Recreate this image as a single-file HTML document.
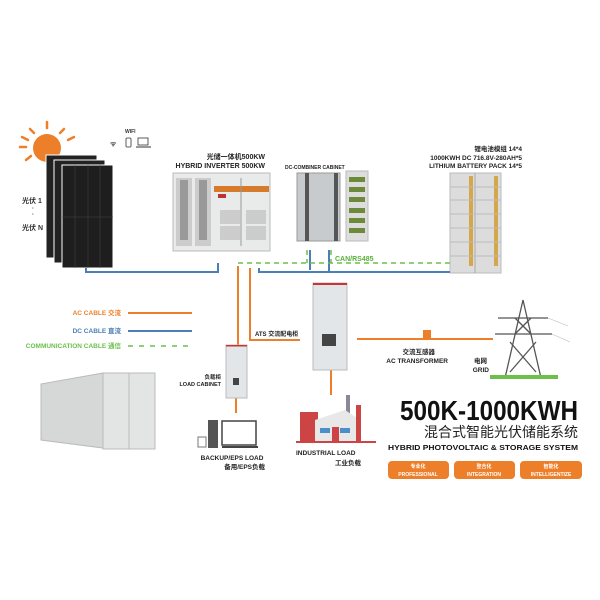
<!DOCTYPE html>
<html><head><meta charset="utf-8"><style>
html,body{margin:0;padding:0;background:#fff;width:600px;height:600px;overflow:hidden}
svg{display:block}
text{font-family:"Liberation Sans","Noto Sans CJK SC",sans-serif;font-weight:bold}
</style></head><body>
<svg width="600" height="600" viewBox="0 0 600 600" xmlns="http://www.w3.org/2000/svg">
<g stroke="#ee7f2a" stroke-width="2.5" stroke-linecap="round">
<line x1="47" y1="122" x2="47" y2="128"/><line x1="30" y1="129" x2="34" y2="133"/><line x1="64" y1="129" x2="60" y2="133"/>
<line x1="20" y1="147" x2="26" y2="147"/><line x1="68" y1="140" x2="74" y2="137"/><line x1="26" y1="160" x2="31" y2="156"/><line x1="22" y1="137" x2="28" y2="140"/>
</g>
<circle cx="47" cy="148" r="14" fill="#ee7f2a"/>
<g stroke="#fff" stroke-width="1">
<rect x="46" y="155" width="51" height="103" fill="#222"/>
<rect x="54" y="160" width="51" height="103" fill="#222"/>
<rect x="62" y="165" width="51" height="103" fill="#1e1e1e"/>
</g>
<g stroke="#444" stroke-width="0.5">
<line x1="62" y1="217" x2="113" y2="217"/><line x1="75" y1="165" x2="75" y2="268"/><line x1="88" y1="165" x2="88" y2="268"/><line x1="100" y1="165" x2="100" y2="268"/>
</g>
<text x="22" y="203" font-size="7" fill="#333">光伏 1</text>
<text x="32" y="210" font-size="6" fill="#333">·</text>
<text x="32" y="216" font-size="6" fill="#333">·</text>
<text x="22" y="230" font-size="7" fill="#333">光伏 N</text>
<text x="125" y="133" font-size="5" fill="#333">WIFI</text>
<text x="110" y="146" font-size="7" fill="#333">ᯤ</text>
<rect x="126" y="138" width="5" height="9" rx="1" fill="none" stroke="#333" stroke-width="0.8"/>
<rect x="138" y="138" width="10" height="7" fill="none" stroke="#333" stroke-width="0.8"/>
<line x1="136" y1="147" x2="151" y2="147" stroke="#333"/>
<text x="265" y="159" font-size="7" fill="#222" text-anchor="end">光储一体机500KW</text>
<text x="265" y="168" font-size="7" fill="#222" text-anchor="end">HYBRID INVERTER 500KW</text>
<rect x="173" y="173" width="97" height="78" fill="#e9eaea" stroke="#bbb"/>
<rect x="176" y="178" width="16" height="68" fill="#ccc"/><rect x="180" y="180" width="8" height="60" fill="#999"/>
<rect x="195" y="178" width="16" height="68" fill="#ccc"/><rect x="199" y="180" width="8" height="60" fill="#999"/>
<rect x="214" y="186" width="55" height="6" fill="#d67a2c"/>
<rect x="218" y="194" width="8" height="4" fill="#b33"/>
<rect x="220" y="210" width="20" height="14" fill="#ccc"/><rect x="246" y="210" width="20" height="14" fill="#ccc"/>
<rect x="220" y="226" width="20" height="14" fill="#ccc"/><rect x="246" y="226" width="20" height="14" fill="#ccc"/>
<line x1="241" y1="178" x2="241" y2="246" stroke="#999"/>
<text x="285" y="169" font-size="5" fill="#222">DC-COMBINER CABINET</text>
<rect x="297" y="173" width="43" height="68" fill="#c8cbcd" stroke="#999"/>
<rect x="305" y="173" width="4" height="68" fill="#555"/><rect x="334" y="173" width="4" height="68" fill="#555"/>
<rect x="346" y="171" width="22" height="70" fill="#ddd" stroke="#bbb"/>
<g fill="#6c8a3a"><rect x="349" y="177" width="16" height="5"/><rect x="349" y="187" width="16" height="5"/><rect x="349" y="197" width="16" height="5"/><rect x="349" y="208" width="16" height="5"/><rect x="349" y="218" width="16" height="5"/><rect x="349" y="228" width="16" height="5"/></g>
<text x="522" y="151" font-size="6.5" fill="#222" text-anchor="end">锂电池模组  14*4</text>
<text x="522" y="160" font-size="6.5" fill="#222" text-anchor="end">1000KWH   DC 716.8V-280AH*5</text>
<text x="522" y="168" font-size="6.5" fill="#222" text-anchor="end">LITHIUM BATTERY PACK  14*5</text>
<rect x="450" y="173" width="51" height="100" fill="#dcdcdc" stroke="#bbb"/>
<line x1="475" y1="173" x2="475" y2="273" stroke="#aaa"/>
<g fill="#d4a84a"><rect x="469" y="176" width="4" height="90"/><rect x="494" y="176" width="4" height="90"/></g>
<g stroke="#bbb"><line x1="450" y1="187" x2="501" y2="187"/><line x1="450" y1="200" x2="501" y2="200"/><line x1="450" y1="214" x2="501" y2="214"/><line x1="450" y1="228" x2="501" y2="228"/><line x1="450" y1="242" x2="501" y2="242"/><line x1="450" y1="256" x2="501" y2="256"/></g>
<g stroke="#4a7fb8" stroke-width="2" fill="none">
<polyline points="86,268 86,272 218,272 218,263"/>
<polyline points="259,268 259,272 450,272"/>
<polyline points="310,250 310,270"/>
<polyline points="329,250 329,272"/>
</g>
<g stroke="#6cbf4a" stroke-width="1.5" fill="none" stroke-dasharray="5,4">
<line x1="238" y1="263" x2="450" y2="263"/>
<line x1="307" y1="250" x2="307" y2="263"/>
<line x1="331" y1="250" x2="331" y2="263"/>
</g>
<text x="335" y="261" font-size="7" fill="#5aaf3a">CAN/RS485</text>
<g stroke="#ee7f2a" stroke-width="2" fill="none">
<line x1="238" y1="266" x2="238" y2="345"/>
<polyline points="250,268 250,340 300,340"/>
<line x1="357" y1="339" x2="493" y2="339"/>
<line x1="236" y1="398" x2="236" y2="413"/>
<line x1="331" y1="370" x2="331" y2="395"/>
</g>
<text x="255" y="336" font-size="6" fill="#222">ATS  交流配电柜</text>
<rect x="313" y="283" width="34" height="87" fill="#e2e6e8" stroke="#bbb"/>
<rect x="313" y="283" width="34" height="2" fill="#c33"/>
<rect x="322" y="334" width="14" height="12" fill="#444"/>
<rect x="423" y="330" width="8" height="10" fill="#ee7f2a"/>
<text x="435" y="354" font-size="6.5" fill="#222" text-anchor="end">交流互感器</text>
<text x="448" y="363" font-size="6.5" fill="#222" text-anchor="end">AC TRANSFORMER</text>
<g stroke="#555" stroke-width="1.3" fill="none">
<polyline points="505,378 523,300 541,378"/>
<line x1="498" y1="318" x2="548" y2="318"/><line x1="495" y1="334" x2="552" y2="334"/>
<line x1="510" y1="342" x2="536" y2="372"/><line x1="536" y1="342" x2="510" y2="372"/>
<line x1="515" y1="318" x2="531" y2="334"/><line x1="531" y1="318" x2="515" y2="334"/>
<line x1="548" y1="318" x2="568" y2="326" stroke="#bbb" stroke-width="0.6"/><line x1="552" y1="334" x2="570" y2="342" stroke="#bbb" stroke-width="0.6"/>
</g>
<rect x="490" y="375" width="68" height="4" fill="#6cc04a"/>
<text x="487" y="363" font-size="6.5" fill="#222" text-anchor="end">电网</text>
<text x="489" y="372" font-size="6.5" fill="#222" text-anchor="end">GRID</text>
<text x="121" y="315" font-size="6.5" fill="#ee7f2a" text-anchor="end">AC CABLE 交流</text>
<line x1="128" y1="313" x2="192" y2="313" stroke="#ee7f2a" stroke-width="2"/>
<text x="121" y="333" font-size="6.5" fill="#4a7fb8" text-anchor="end">DC CABLE 直流</text>
<line x1="128" y1="331" x2="192" y2="331" stroke="#4a7fb8" stroke-width="2"/>
<text x="121" y="348" font-size="6.5" fill="#6cbf4a" text-anchor="end">COMMUNICATION CABLE 通信</text>
<line x1="128" y1="346" x2="192" y2="346" stroke="#6cbf4a" stroke-width="1.5" stroke-dasharray="5,6"/>
<rect x="226" y="345" width="21" height="53" fill="#e2e6e8" stroke="#bbb"/>
<rect x="226" y="345" width="21" height="1.5" fill="#c33"/>
<rect x="233" y="378" width="6" height="7" fill="#444"/>
<text x="221" y="379" font-size="5.5" fill="#222" text-anchor="end">负载柜</text>
<text x="221" y="386" font-size="5.5" fill="#222" text-anchor="end">LOAD CABINET</text>
<polygon points="41,384 103,373 103,448 41,440" fill="#d6d8d8" stroke="#bbb"/>
<rect x="103" y="373" width="52" height="76" fill="#e3e5e5" stroke="#bbb"/>
<line x1="129" y1="373" x2="129" y2="449" stroke="#bbb"/>
<rect x="208" y="420" width="10" height="28" fill="#555"/>
<rect x="222" y="421" width="34" height="24" fill="#fff" stroke="#444" stroke-width="1.5"/>
<rect x="222" y="446" width="36" height="2" fill="#444"/>
<rect x="198" y="437" width="8" height="10" fill="none" stroke="#777"/>
<text x="232" y="460" font-size="6.5" fill="#222" text-anchor="middle">BACKUP/EPS LOAD</text>
<text x="265" y="469" font-size="6.5" fill="#222" text-anchor="end">备用/EPS负载</text>
<rect x="346" y="395" width="4" height="40" fill="#889"/>
<rect x="300" y="412" width="18" height="30" fill="#c44"/>
<polygon points="315,420 345,410 360,420 360,442 315,442" fill="#e8e8e8"/>
<rect x="320" y="428" width="10" height="5" fill="#4a8fc8"/><rect x="340" y="428" width="10" height="5" fill="#4a8fc8"/>
<rect x="332" y="427" width="7" height="15" fill="#c44"/>
<rect x="356" y="405" width="5" height="37" fill="#c44"/>
<rect x="296" y="441" width="80" height="2" fill="#c44"/>
<text x="296" y="455" font-size="6.5" fill="#222">INDUSTRIAL LOAD</text>
<text x="361" y="465" font-size="6.5" fill="#222" text-anchor="end">工业负载</text>
<text x="578" y="420" font-size="27.5" fill="#111" text-anchor="end" textLength="178" lengthAdjust="spacingAndGlyphs">500K-1000KWH</text>
<text x="578" y="437" font-size="14" fill="#222" text-anchor="end" style="font-weight:normal">混合式智能光伏储能系统</text>
<text x="578" y="450" font-size="7.5" fill="#111" text-anchor="end" textLength="190" lengthAdjust="spacingAndGlyphs">HYBRID PHOTOVOLTAIC &amp; STORAGE SYSTEM</text>
<g fill="#ee7f2a"><rect x="388" y="461" width="61" height="18" rx="4"/><rect x="454" y="461" width="61" height="18" rx="4"/><rect x="520" y="461" width="62" height="18" rx="4"/></g>
<g fill="#fff" font-size="5" text-anchor="middle">
<text x="418" y="468">专业化</text><text x="418" y="476">PROFESSIONAL</text>
<text x="484" y="468">整合化</text><text x="484" y="476">INTEGRATION</text>
<text x="551" y="468">智能化</text><text x="551" y="476">INTELLIGENTIZE</text>
</g>
</svg>
</body></html>
